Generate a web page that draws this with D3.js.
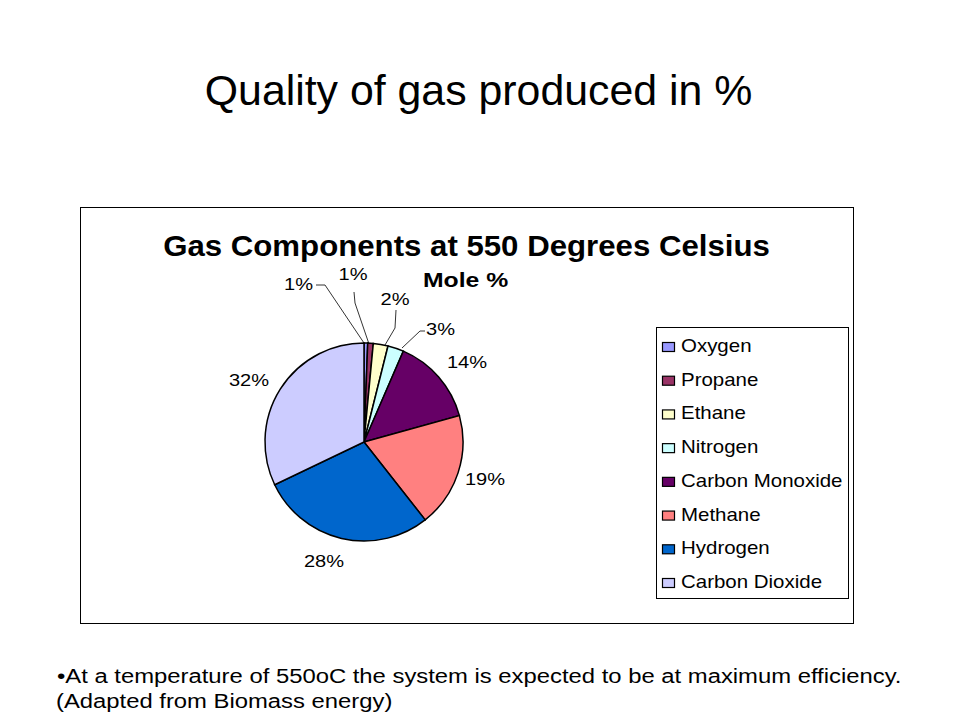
<!DOCTYPE html>
<html><head><meta charset="utf-8">
<script src="https://cdn.jsdelivr.net/npm/d3@7"></script>
<style>body{margin:0;background:#fff;} svg{display:block;font-family:Arial,"Liberation Sans",sans-serif;}</style>
</head><body>
<svg id="c" width="960" height="720"></svg>
<script>
const categories = ["Oxygen","Propane","Ethane","Nitrogen","Carbon Monoxide","Methane","Hydrogen","Carbon Dioxide"];
const values = [0.6, 0.9, 2.4, 2.6, 14.2, 18.7, 28.5, 32.1];
const labels = ["1%","1%","2%","3%","14%","19%","28%","32%"];
const colors = ["#9999FF","#993366","#FFFFCC","#CCFFFF","#660066","#FF8080","#0066CC","#CCCCFF"];

const svg = d3.select("#c");
svg.append("rect").attr("width",960).attr("height",720).attr("fill","#fff");

// text helper with horizontal stretch about the anchor point
function txt(parent, x, y, s, size, o = {}) {
  const t = parent.append("g").attr("transform", `translate(${x},${y}) scale(${o.sx || 1},1)`)
    .append("text").attr("x", 0).attr("y", 0)
    .attr("text-anchor", o.anchor || "start")
    .attr("font-size", size)
    .attr("font-weight", o.weight || "normal")
    .attr("fill", "#000")
    .text(s);
  return t;
}

txt(svg, 478.5, 105, "Quality of gas produced in %", 42, {anchor: "middle", sx: 1.02});

// chart frame
svg.append("rect").attr("x",80.5).attr("y",207.5).attr("width",773).attr("height",416)
  .attr("fill","#fff").attr("stroke","#000").attr("stroke-width",1);

txt(svg, 466.5, 256, "Gas Components at 550 Degrees Celsius", 30, {anchor: "middle", weight: "bold", sx: 1.04});
txt(svg, 423, 287, "Mole %", 19.5, {weight: "bold", sx: 1.27});

const cx = 364, cy = 442, r = 99;
const pie = d3.pie().sort(null).value(d=>d)(values);
const arc = d3.arc().innerRadius(0).outerRadius(r);
const g = svg.append("g").attr("transform",`translate(${cx},${cy})`);
g.selectAll("path").data(pie).join("path")
  .attr("d",arc).attr("fill",(d,i)=>colors[i]).attr("stroke","#000").attr("stroke-width",1.5);

// labels (offsets relative to center)
const labelPos = [
  {x:-51,y:-152, anchor:"end", line:[[-48,-157],[-39,-157],[0,-99]]},
  {x:-11,y:-162, anchor:"middle", line:[[-10,-150],[-9,-139],[5,-98]]},
  {x:31,y:-137, anchor:"middle", line:[[32,-132],[31,-114],[21,-97]]},
  {x:62,y:-107, anchor:"start", line:[[61,-111],[56,-111],[38,-94]]},
  {x:103,y:-74, anchor:"middle"},
  {x:121,y:43, anchor:"middle"},
  {x:-40,y:125, anchor:"middle"},
  {x:-115,y:-56, anchor:"middle"}
];
labelPos.forEach((p,i)=>{
  if(p.line){
    g.append("path").attr("d",d3.line()(p.line)).attr("fill","none").attr("stroke","#000").attr("stroke-width",0.8);
  }
  txt(g, p.x, p.y, labels[i], 17, {anchor: p.anchor, sx: 1.18});
});

// legend
svg.append("rect").attr("x",656.5).attr("y",327.5).attr("width",192).attr("height",271)
  .attr("fill","#fff").attr("stroke","#000").attr("stroke-width",1);
const ly = d3.scalePoint().domain(categories).range([352,588]);
categories.forEach((c,i)=>{
  svg.append("rect").attr("x",662.5).attr("y",ly(c)-9.5).attr("width",12).attr("height",9)
    .attr("fill",colors[i]).attr("stroke","#000").attr("stroke-width",1.2);
  txt(svg, 681, ly(c), c, 17.5, {sx: 1.17});
});

txt(svg, 57, 683, "\u2022At a temperature of 550oC the system is expected to be at maximum efficiency.", 21, {sx: 1.135});
txt(svg, 56, 708, "(Adapted from Biomass energy)", 21, {sx: 1.135});
</script>
</body></html>
